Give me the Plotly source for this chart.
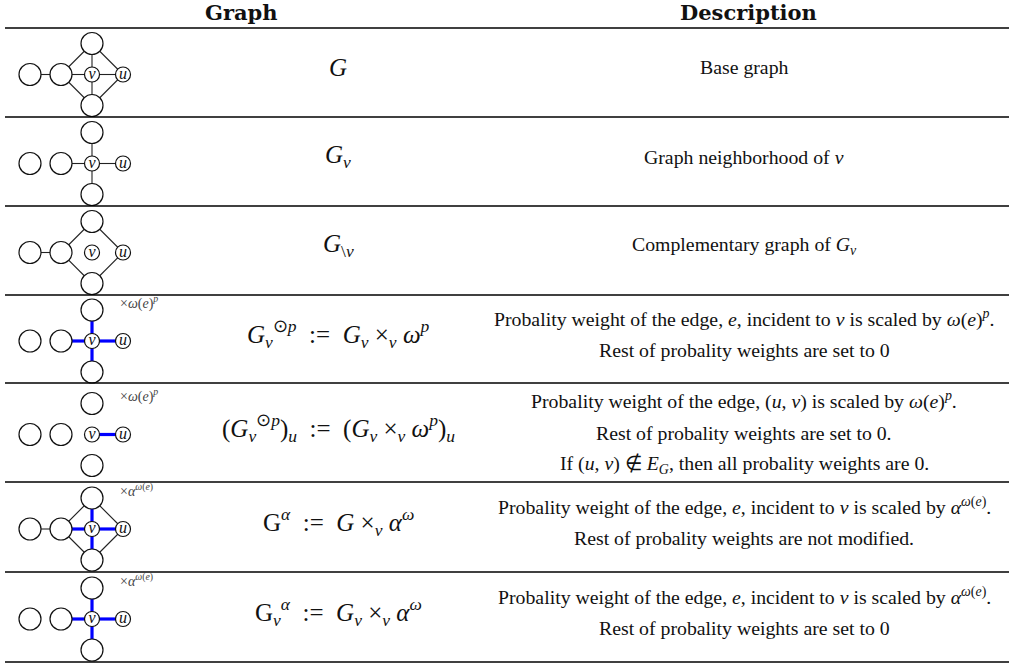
import plotly.graph_objects as go

W, H = 1009, 663

# small example graph, grid layout with v at the origin
node_names = ["L", "S", "v", "u", "T", "B"]
node_x = [-2, -1, 0, 1, 0, 0]
node_y = [0, 0, 0, 0, 1, -1]
node_label = ["", "", "<i>v</i>", "<i>u</i>", "", ""]
node_big = [True, True, False, False, True, True]

edges_full = [("L", "S"), ("S", "v"), ("v", "u"), ("S", "T"), ("S", "B"),
              ("T", "v"), ("v", "B"), ("T", "u"), ("B", "u")]
edges_star = [("S", "v"), ("v", "u"), ("T", "v"), ("v", "B")]
edges_comp = [("L", "S"), ("S", "T"), ("S", "B"), ("T", "u"), ("B", "u")]
edges_uv = [("v", "u")]

# per row: black edges, blue (scaled) edges, scale label
row_black = [edges_full, edges_star, edges_comp, [], [], edges_comp, []]
row_blue = [[], [], [], edges_star, edges_uv, edges_star, edges_star]
row_scale = ["", "", "",
             "×<i>ω</i>(<i>e</i>)<sup><i>p</i></sup>",
             "×<i>ω</i>(<i>e</i>)<sup><i>p</i></sup>",
             "×<i>α</i><sup><i>ω</i>(<i>e</i>)</sup>",
             "×<i>α</i><sup><i>ω</i>(<i>e</i>)</sup>"]

sp = "\u2002"  # thick space around :=
ms = "\u2005"  # medium space around ×
formulas = [
    "<i>G</i>",
    "<i>G</i><sub><i>v</i></sub>",
    "<i>G</i><sub>\\<i>v</i></sub>",
    f"<i>G</i><sub><i>v</i></sub><sup>⊙<i>p</i></sup>{sp}:={sp}<i>G</i><sub><i>v</i></sub>{ms}×<sub><i>v</i></sub>{ms}<i>ω</i><sup><i>p</i></sup>",
    f"(<i>G</i><sub><i>v</i></sub><sup>⊙<i>p</i></sup>)<sub><i>u</i></sub>{sp}:={sp}(<i>G</i><sub><i>v</i></sub>{ms}×<sub><i>v</i></sub>{ms}<i>ω</i><sup><i>p</i></sup>)<sub><i>u</i></sub>",
    f"G<sup><i>α</i></sup>{sp}:={sp}<i>G</i>{ms}×<sub><i>v</i></sub>{ms}<i>α</i><sup><i>ω</i></sup>",
    f"G<sub><i>v</i></sub><sup><i>α</i></sup>{sp}:={sp}<i>G</i><sub><i>v</i></sub>{ms}×<sub><i>v</i></sub>{ms}<i>α</i><sup><i>ω</i></sup>",
]

descriptions = [
    ["Base graph"],
    ["Graph neighborhood of <i>v</i>"],
    ["Complementary graph of <i>G</i><sub><i>v</i></sub>"],
    ["Probality weight of the edge, <i>e</i>, incident to <i>v</i> is scaled by <i>ω</i>(<i>e</i>)<sup><i>p</i></sup>.",
     "Rest of probality weights are set to 0"],
    ["Probality weight of the edge, (<i>u</i>, <i>v</i>) is scaled by <i>ω</i>(<i>e</i>)<sup><i>p</i></sup>.",
     "Rest of probality weights are set to 0.",
     "If (<i>u</i>, <i>v</i>) ∉ <i>E</i><sub><i>G</i></sub>, then all probality weights are 0."],
    ["Probality weight of the edge, <i>e</i>, incident to <i>v</i> is scaled by <i>α</i><sup><i>ω</i>(<i>e</i>)</sup>.",
     "Rest of probality weights are not modified."],
    ["Probality weight of the edge, <i>e</i>, incident to <i>v</i> is scaled by <i>α</i><sup><i>ω</i>(<i>e</i>)</sup>.",
     "Rest of probality weights are set to 0"],
]

# layout in pixels
row_edges = [28, 117, 206, 295, 383, 482, 572, 662]
unit = 31
v_px = 92
graph_w = 200
formula_x = 338
desc_x = 744
line_gap = 32
serif = "Liberation Serif"
head_font = "DejaVu Serif"


def py(p):
    return 1 - p / H


def edge_xy(edges):
    xs, ys = [], []
    for a, b in edges:
        ia, ib = node_names.index(a), node_names.index(b)
        xs += [node_x[ia], node_x[ib], None]
        ys += [node_y[ia], node_y[ib], None]
    return xs, ys


fig = go.Figure()
annotations = []
shapes = []

for i in range(7):
    top, bot = row_edges[i], row_edges[i + 1]
    ax = "" if i == 0 else str(i + 1)
    yv = (top + bot) / 2 + 2

    fig.update_layout(**{
        f"xaxis{ax}": dict(domain=[0, graph_w / W], range=[-v_px / unit, (graph_w - v_px) / unit],
                           visible=False, fixedrange=True),
        f"yaxis{ax}": dict(domain=[py(bot), py(top)], range=[-(bot - yv) / unit, (yv - top) / unit],
                           visible=False, fixedrange=True),
    })

    bx, by = edge_xy(row_black[i])
    if bx:
        fig.add_trace(go.Scatter(x=bx, y=by, mode="lines", line=dict(color="#222", width=1.1),
                                 xaxis=f"x{ax}", yaxis=f"y{ax}", hoverinfo="skip", cliponaxis=False))
    ux, uy = edge_xy(row_blue[i])
    if ux:
        fig.add_trace(go.Scatter(x=ux, y=uy, mode="lines", line=dict(color="#0000ff", width=3.2),
                                 xaxis=f"x{ax}", yaxis=f"y{ax}", hoverinfo="skip", cliponaxis=False))

    fig.add_trace(go.Scatter(
        x=node_x, y=node_y, mode="markers+text", text=node_label, textposition="middle center",
        textfont=dict(family=serif, size=16, color="#111"),
        marker=dict(size=[22 if b else 15 for b in node_big], color="white", opacity=1,
                    line=dict(color="#111", width=1.2)),
        xaxis=f"x{ax}", yaxis=f"y{ax}", hoverinfo="skip", cliponaxis=False))

    if row_scale[i]:
        annotations.append(dict(text=row_scale[i], xref=f"x{ax}", yref=f"y{ax}", x=0.85, y=1.25,
                                xanchor="left", yanchor="middle", showarrow=False,
                                font=dict(family=serif, size=14, color="#444")))

    mid = (top + bot) / 2 - 5
    annotations.append(dict(text=formulas[i], xref="paper", yref="paper", x=formula_x / W, y=py(mid),
                            xanchor="center", yanchor="middle", showarrow=False,
                            font=dict(family=serif, size=25, color="#111")))

    lines = descriptions[i]
    shift = 5 if len(lines) > 2 else 0
    for k, line in enumerate(lines):
        yy = mid + (k - (len(lines) - 1) / 2) * line_gap + shift
        annotations.append(dict(text=line, xref="paper", yref="paper", x=desc_x / W, y=py(yy),
                                xanchor="center", yanchor="middle", showarrow=False,
                                font=dict(family=serif, size=19.8, color="#111")))

# table rules
for r in row_edges:
    shapes.append(dict(type="line", xref="paper", yref="paper", x0=5 / W, x1=1, y0=py(r), y1=py(r),
                       line=dict(color="black", width=1.5)))

# header
annotations.append(dict(text="<b>Graph</b>", xref="paper", yref="paper", x=241 / W, y=py(12),
                        xanchor="center", yanchor="middle", showarrow=False,
                        font=dict(family=head_font, size=21, color="#111")))
annotations.append(dict(text="<b>Description</b>", xref="paper", yref="paper", x=748 / W, y=py(12),
                        xanchor="center", yanchor="middle", showarrow=False,
                        font=dict(family=head_font, size=21, color="#111")))

fig.update_layout(
    width=W, height=H,
    margin=dict(l=0, r=0, t=0, b=0),
    paper_bgcolor="white", plot_bgcolor="white",
    showlegend=False,
    annotations=annotations,
    shapes=shapes,
)

fig.write_html("out.html", config={"displayModeBar": False},
               post_script="document.body.style.margin = '0';")
